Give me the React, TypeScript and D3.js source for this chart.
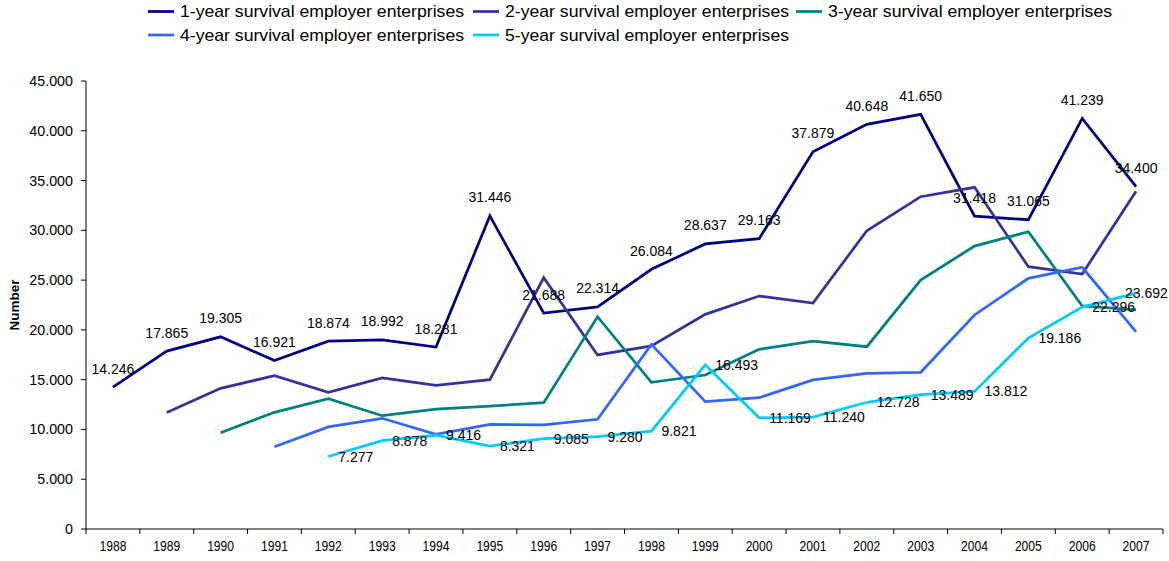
import React from "react";
import * as d3 from "d3";

const years = ["1988","1989","1990","1991","1992","1993","1994","1995","1996","1997","1998","1999","2000","2001","2002","2003","2004","2005","2006","2007"];

const oneYear = [14246,17865,19305,16921,18874,18992,18281,31446,21688,22314,26084,28637,29163,37879,40648,41650,31418,31065,41239,34400];
const twoYear = [null,11700,14130,15400,13730,15170,14430,15000,25240,17480,18400,21560,23400,22700,29960,33380,34320,26350,25610,33930];
const threeYear = [null,null,9670,11720,13090,11380,12050,12350,12690,21320,14740,15470,18050,18880,18310,25010,28420,29860,22400,22000];
const fourYear = [null,null,null,8270,10250,11120,9510,10510,10450,11020,18550,12790,13190,14970,15640,15740,21500,25180,26290,19800];
const fiveYear = [null,null,null,null,7277,8878,9416,8321,9085,9280,9821,16493,11169,11240,12728,13489,13812,19186,22296,23692];

const seriesNames = [
  "1-year survival employer enterprises",
  "2-year survival employer enterprises",
  "3-year survival employer enterprises",
  "4-year survival employer enterprises",
  "5-year survival employer enterprises",
];
const seriesColors = ["#000080", "#333399", "#008080", "#3366FF", "#00CCFF"];
const yTicks = [0,5000,10000,15000,20000,25000,30000,35000,40000,45000];

const FONT = "'Liberation Sans', Arial, sans-serif";

const fmt = (v: number) => d3.format(",")(v).replace(/,/g, ".");

export default function App() {
  const W = 1169, H = 561;
  const left = 86, right = 1163, top = 81, bottom = 529;
  const x = d3.scaleBand<string>().domain(years).range([left, right]);
  const y = d3.scaleLinear().domain([0, 45000]).range([bottom, top]);
  const cx = (yr: string) => (x(yr) as number) + x.bandwidth() / 2;

  const allSeries = [oneYear, twoYear, threeYear, fourYear, fiveYear];
  const line = d3
    .line<number | null>()
    .defined((d) => d != null)
    .x((_, i) => cx(years[i]))
    .y((d) => y(d as number));

  const legendItems = [
    { i: 0, sx: 148, ty: 11.5 },
    { i: 1, sx: 473, ty: 11.5 },
    { i: 2, sx: 796, ty: 11.5 },
    { i: 3, sx: 148, ty: 35 },
    { i: 4, sx: 473, ty: 35 },
  ];

  const boundaries = years.map((yr) => x(yr) as number).concat([right]);
  const labelW = 43;

  return (
    <svg width={W} height={H} style={{ position: "fixed", left: 0, top: 0, background: "#fff" }} fontFamily={FONT}>
      <rect x={0} y={0} width={W} height={H} fill="#fff" />
      {/* Legend */}
      {legendItems.map(({ i, sx, ty }) => (
        <g key={i}>
          <line x1={sx} x2={sx + 26} y1={ty} y2={ty} stroke={seriesColors[i]} strokeWidth={2.75} />
          <text x={sx + 32} y={ty} dominantBaseline="central" fontSize={17} textLength={284} lengthAdjust="spacingAndGlyphs" fill="#000">
            {seriesNames[i]}
          </text>
        </g>
      ))}

      {/* Y axis */}
      <line x1={left} x2={left} y1={top} y2={bottom} stroke="#000" strokeWidth={1} />
      {yTicks.map((t) => (
        <g key={t}>
          <line x1={left - 5} x2={left} y1={y(t)} y2={y(t)} stroke="#000" />
          <text x={73} y={y(t)} textAnchor="end" dominantBaseline="central" fontSize={14.3} fill="#000">
            {fmt(t)}
          </text>
        </g>
      ))}
      <text
        transform={`translate(19,${(top + bottom) / 2}) rotate(-90)`}
        textAnchor="middle"
        fontSize={13.5}
        fontWeight="bold"
        fill="#000"
      >
        Number
      </text>

      {/* X axis */}
      <line x1={left} x2={right} y1={bottom} y2={bottom} stroke="#000" />
      {boundaries.map((b, i) => (
        <line key={i} x1={b} x2={b} y1={bottom} y2={bottom + 5} stroke="#000" />
      ))}
      {years.map((yr) => (
        <text key={yr} x={cx(yr)} y={551} textAnchor="middle" fontSize={15} textLength={27} lengthAdjust="spacingAndGlyphs" fill="#000">
          {yr}
        </text>
      ))}

      {/* Lines */}
      {allSeries.map((s, k) => (
        <path key={k} d={line(s) || ""} fill="none" stroke={seriesColors[k]} strokeWidth={2.75} strokeLinejoin="miter" />
      ))}

      {/* Data labels: 1-year above */}
      {oneYear.map((v, i) => (
        <text key={"a" + i} x={cx(years[i])} y={y(v) - 13.5} textAnchor="middle" fontSize={14} fill="#000">
          {fmt(v)}
        </text>
      ))}
      {/* Data labels: 5-year right */}
      {fiveYear.map((v, i) =>
        v == null ? null : (
          <text key={"b" + i} x={Math.min(cx(years[i]) + 10, W - labelW - 1)} y={y(v)} dominantBaseline="central" fontSize={14} fill="#000">
            {fmt(v)}
          </text>
        )
      )}
    </svg>
  );
}
